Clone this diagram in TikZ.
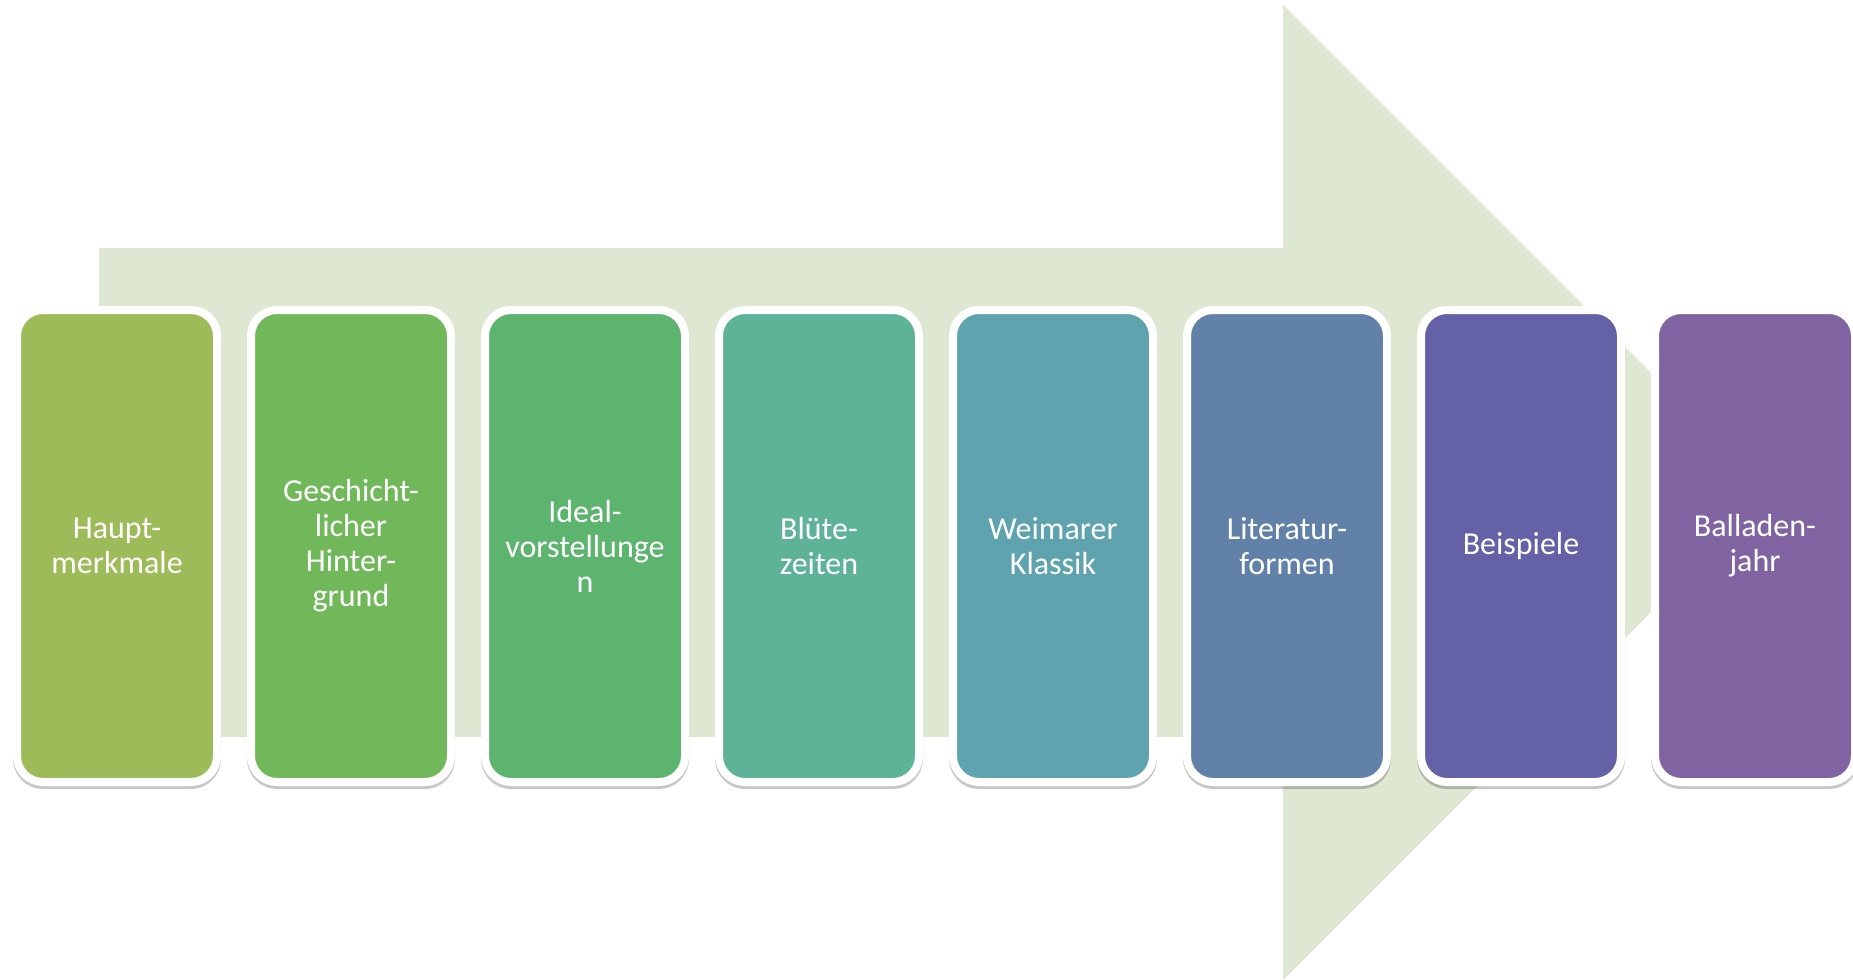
\documentclass[tikz,border=0pt]{standalone}
\usepackage{fontspec}
\setmainfont{Carlito}
\usetikzlibrary{shadows}
\definecolor{arrowgreen}{HTML}{DEE7D1}
\definecolor{phaseA}{HTML}{9EBB59}
\definecolor{phaseB}{HTML}{71B85A}
\definecolor{phaseC}{HTML}{5DB46F}
\definecolor{phaseD}{HTML}{5DB298}
\definecolor{phaseE}{HTML}{5EA3AD}
\definecolor{phaseF}{HTML}{6181A9}
\definecolor{phaseG}{HTML}{6461A6}
\definecolor{phaseH}{HTML}{8064A1}
\begin{document}
\begin{tikzpicture}[x=1pt,y=-1pt,
    phasebox/.style={draw=white,line width=8pt,rounded corners=26pt,
        minimum width=200pt,minimum height=472pt,align=center,text=white,
        font=\fontsize{32}{35}\selectfont,
        drop shadow={shadow xshift=0pt,shadow yshift=-3pt,opacity=.22,fill=black,draw=black,line width=8pt}}]
    \useasboundingbox (0,0) rectangle (1853,980);
    \fill[arrowgreen] (99,248) -- (1283,248) -- (1283,5) -- (1770.5,492.5) -- (1283,980) -- (1283,737) -- (99,737) -- cycle;
    \foreach \txt/\col [count=\i from 0] in {Haupt-\\merkmale/phaseA,Geschicht-\\licher\\Hinter-\\grund/phaseB,Ideal-\\vorstellunge\\n/phaseC,Blüte-\\zeiten/phaseD,Weimarer\\Klassik/phaseE,Literatur-\\formen/phaseF,Beispiele/phaseG,Balladen-\\jahr/phaseH}
        \node[phasebox,fill=\col] (b\i) at ({117+234*\i},546) {\txt};
\end{tikzpicture}
\end{document}
